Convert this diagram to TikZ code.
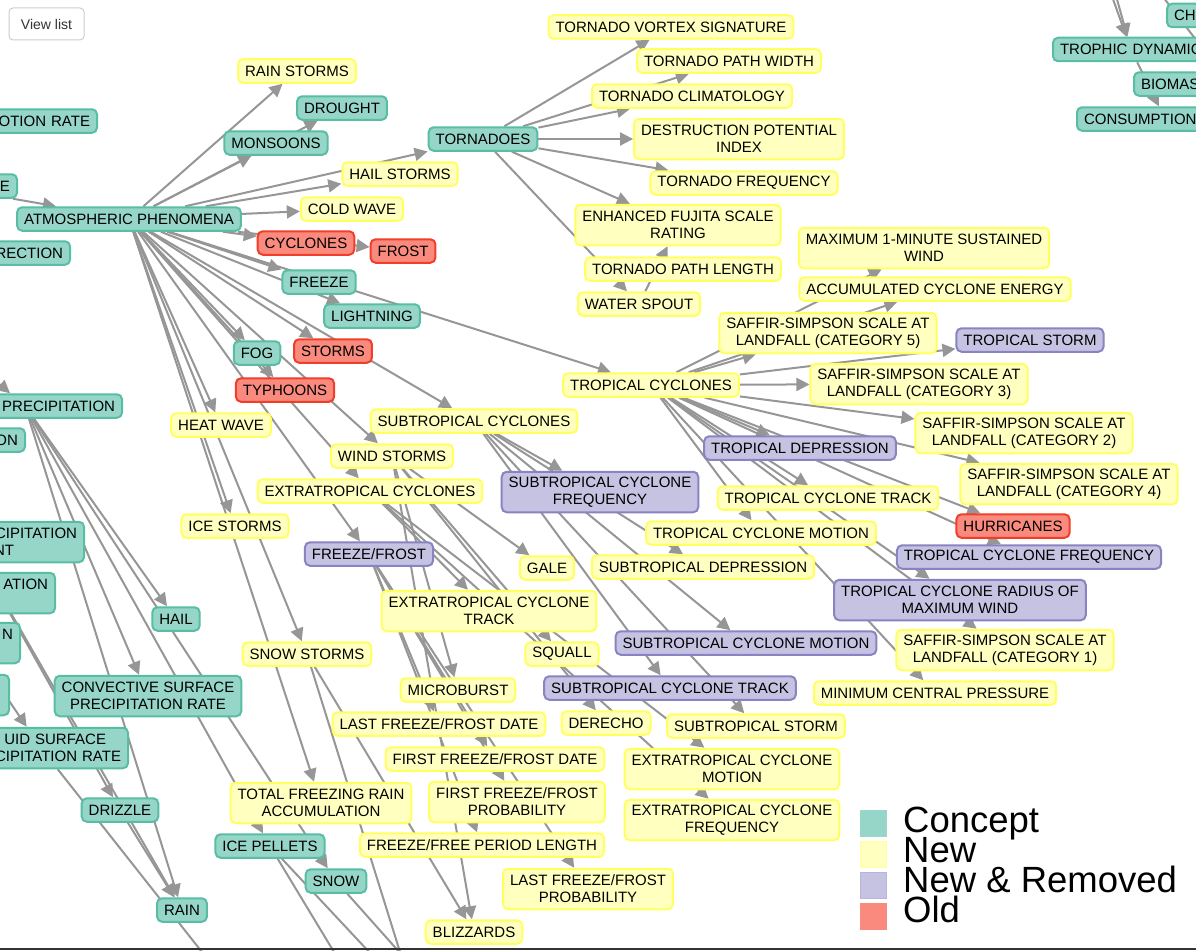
\documentclass[tikz,border=0pt]{standalone}
\usepackage{fontspec}
\setmainfont{Liberation Sans}
\usetikzlibrary{arrows.meta}
\definecolor{conceptfill}{RGB}{150,214,200}
\definecolor{conceptline}{RGB}{88,189,163}
\definecolor{newfill}{RGB}{255,255,192}
\definecolor{newline}{RGB}{255,255,96}
\definecolor{remfill}{RGB}{197,195,225}
\definecolor{remline}{RGB}{136,131,195}
\definecolor{oldfill}{RGB}{250,138,125}
\definecolor{oldline}{RGB}{240,62,42}
\definecolor{linkgray}{RGB}{150,150,150}
\definecolor{btnline}{RGB}{204,204,204}
\definecolor{btntext}{RGB}{51,51,51}
\pgfdeclarelayer{links}
\pgfsetlayers{links,main}

\begin{document}
\begin{tikzpicture}[x=1pt, y=-1pt,
  term/.style={rectangle, rounded corners=5pt, line width=2pt, inner xsep=7pt, inner ysep=3pt,
    minimum height=23.5pt, align=center, font=\fontsize{15}{17}\selectfont},
  two/.style={minimum height=40.5pt},
  conceptnode/.style={term, fill=conceptfill, draw=conceptline},
  newnode/.style={term, fill=newfill, draw=newline},
  newremnode/.style={term, fill=remfill, draw=remline},
  oldnode/.style={term, fill=oldfill, draw=oldline},
  cutleft/.style={anchor=east, text width=#1, align=right},
  cutright/.style={anchor=west, text width=#1, align=left},
  linkline/.style={draw=linkgray, line width=2pt, -{Triangle[length=13pt, width=13pt]}},
  legkey/.style={minimum size=26pt, inner sep=0pt, line width=1pt},
  legtext/.style={anchor=base west, inner sep=0pt, font=\fontsize{36.5}{40}\selectfont}]

\useasboundingbox (0,0) rectangle (1196,950);

\node[draw=btnline, fill=white, rounded corners=4pt, line width=1pt, minimum width=75pt,
  minimum height=32pt, inner sep=0pt, text=btntext, font=\fontsize{14}{16}\selectfont] (viewlist) at (46.5,24) {View list};

% cut at the left edge
\node[conceptnode, cutleft=120pt] (otion) at (98,121) {OTION RATE};
\node[conceptnode, cutleft=140pt] (ecut) at (18,186) {E};
\node[conceptnode, cutleft=100pt] (rection) at (71,253) {RECTION};
\node[conceptnode, cutleft=180pt] (precip) at (123,406) {PRECIPITATION};
\node[conceptnode, cutleft=60pt] (oncut) at (26,440) {ON};
\node[conceptnode, two, cutleft=214pt] (cipnt) at (85,542) {CIPITATION\\NT\rule{63pt}{0pt}};
\node[conceptnode, two, cutleft=80pt] (ation) at (56,593) {ATION\\\mbox{}};
\node[conceptnode, two, cutleft=86pt] (ncut) at (21,643) {N\\\mbox{}};
\node[conceptnode, two, cutleft=40pt] (blank) at (10,695) {};
\node[conceptnode, two, cutleft=160pt] (liquid) at (129,748) {UID SURFACE\rule{15pt}{0pt}\\CIPITATION RATE};

% cut at the right edge
\node[conceptnode, cutright=100pt] (chi) at (1166,15.5) {CHI};
\node[conceptnode, cutright=142pt] (trophic) at (1052,49.5) {TROPHIC DYNAMIC};
\node[conceptnode, cutright=178pt] (biomas) at (1133,84) {BIOMAS};
\node[conceptnode, cutright=162pt] (consump) at (1076,119) {CONSUMPTION};

\node[newnode] (rainst) at (297,71) {RAIN STORMS};
\node[conceptnode] (drought) at (342,108) {DROUGHT};
\node[conceptnode] (monsoons) at (276,143) {MONSOONS};
\node[conceptnode] (tornadoes) at (483,139) {TORNADOES};
\node[newnode] (hailst) at (400,174) {HAIL STORMS};
\node[newnode] (coldw) at (352,209) {COLD WAVE};
\node[conceptnode] (atmo) at (129,219) {ATMOSPHERIC PHENOMENA};
\node[oldnode] (cyclones) at (306,243) {CYCLONES};
\node[oldnode] (frost) at (403,251) {FROST};
\node[conceptnode] (freeze) at (319,282) {FREEZE};
\node[conceptnode] (lightning) at (372,316) {LIGHTNING};
\node[conceptnode] (fog) at (257,353) {FOG};
\node[oldnode] (storms) at (333,351) {STORMS};
\node[oldnode] (typhoons) at (285,390) {TYPHOONS};
\node[newnode] (heatw) at (221,425) {HEAT WAVE};
\node[newnode] (subcyc) at (474,421) {SUBTROPICAL CYCLONES};
\node[newnode] (windst) at (392,456) {WIND STORMS};
\node[newnode] (extcyc) at (370,491) {EXTRATROPICAL CYCLONES};
\node[newnode] (icest) at (235,526) {ICE STORMS};
\node[newremnode] (ffrost) at (369,554) {FREEZE/FROST};
\node[newnode] (gale) at (547,568) {GALE};
\node[newremnode, two] (subfreq) at (600,492) {SUBTROPICAL CYCLONE\\FREQUENCY};
\node[newnode, two] (exttrack) at (489,611) {EXTRATROPICAL CYCLONE\\TRACK};
\node[newnode] (squall) at (562,654) {SQUALL};
\node[newnode] (microb) at (458,690) {MICROBURST};
\node[newremnode] (subtrack) at (670,688) {SUBTROPICAL CYCLONE TRACK};
\node[newnode] (derecho) at (606,723) {DERECHO};
\node[newnode] (substorm) at (756,726) {SUBTROPICAL STORM};
\node[newnode] (lastdate) at (439,724) {LAST FREEZE/FROST DATE};
\node[newnode] (firstdate) at (495,759) {FIRST FREEZE/FROST DATE};
\node[newnode, two] (extmotion) at (732,769) {EXTRATROPICAL CYCLONE\\MOTION};
\node[newnode, two] (firstprob) at (517,802) {FIRST FREEZE/FROST\\PROBABILITY};
\node[newnode, two] (extfreq) at (732,820) {EXTRATROPICAL CYCLONE\\FREQUENCY};
\node[newnode] (freeperiod) at (482,845) {FREEZE/FREE PERIOD LENGTH};
\node[newnode, two] (lastprob) at (588,889) {LAST FREEZE/FROST\\PROBABILITY};
\node[newnode] (blizz) at (474,932) {BLIZZARDS};
\node[newnode, two] (tfr) at (321,803) {TOTAL FREEZING RAIN\\ACCUMULATION};
\node[conceptnode] (icepel) at (270,846) {ICE PELLETS};
\node[conceptnode] (snow) at (336,881) {SNOW};
\node[conceptnode] (rain) at (182,910) {RAIN};
\node[conceptnode] (drizzle) at (120,810) {DRIZZLE};
\node[conceptnode, two] (convect) at (148,696) {CONVECTIVE SURFACE\\PRECIPITATION RATE};
\node[newnode] (snowst) at (307,654) {SNOW STORMS};
\node[conceptnode] (hail) at (176,619) {HAIL};

\node[newnode] (vortex) at (671,27) {TORNADO VORTEX SIGNATURE};
\node[newnode] (pathw) at (729,61) {TORNADO PATH WIDTH};
\node[newnode] (climat) at (692,96) {TORNADO CLIMATOLOGY};
\node[newnode, two] (destr) at (739,139) {DESTRUCTION POTENTIAL\\INDEX};
\node[newnode] (tfreq) at (744,183) {TORNADO FREQUENCY};
\node[newnode, two] (fujita) at (678,225) {ENHANCED FUJITA SCALE\\RATING};
\node[newnode] (pathl) at (683,269) {TORNADO PATH LENGTH};
\node[newnode] (wspout) at (639,304) {WATER SPOUT};

\node[newnode, two] (maxwind) at (924,248) {MAXIMUM 1-MINUTE SUSTAINED\\WIND};
\node[newnode] (ace) at (935,289) {ACCUMULATED CYCLONE ENERGY};
\node[newnode, two] (ssfive) at (828,333) {SAFFIR-SIMPSON SCALE AT\\LANDFALL (CATEGORY 5)};
\node[newremnode] (tstorm) at (1030,340) {TROPICAL STORM};
\node[newnode] (tropcyc) at (651,385) {TROPICAL CYCLONES};
\node[newnode, two] (ssthree) at (919,384) {SAFFIR-SIMPSON SCALE AT\\LANDFALL (CATEGORY 3)};
\node[newnode, two] (sstwo) at (1024,433) {SAFFIR-SIMPSON SCALE AT\\LANDFALL (CATEGORY 2)};
\node[newremnode] (tdep) at (800,448) {TROPICAL DEPRESSION};
\node[newnode, two] (ssfour) at (1069,484) {SAFFIR-SIMPSON SCALE AT\\LANDFALL (CATEGORY 4)};
\node[newnode] (tctrack) at (828,498) {TROPICAL CYCLONE TRACK};
\node[oldnode] (hurr) at (1013,526) {HURRICANES};
\node[newnode] (tcmotion) at (761,533) {TROPICAL CYCLONE MOTION};
\node[newnode] (subdep) at (703,567) {SUBTROPICAL DEPRESSION};
\node[newremnode] (tcfreq) at (1029,557) {TROPICAL CYCLONE FREQUENCY};
\node[newremnode, two] (radius) at (960,600) {TROPICAL CYCLONE RADIUS OF\\MAXIMUM WIND};
\node[newremnode] (submotion) at (746,643) {SUBTROPICAL CYCLONE MOTION};
\node[newnode, two] (ssone) at (1005,650) {SAFFIR-SIMPSON SCALE AT\\LANDFALL (CATEGORY 1)};
\node[newnode] (mcp) at (935,693) {MINIMUM CENTRAL PRESSURE};

% free ends outside the frame
\coordinate (offprecip) at (-70,325);
\coordinate (offliq) at (228,985);
\coordinate (offpel1) at (363,1000);
\coordinate (offpel2) at (414,1000);
\coordinate (offsnow) at (442,1000);
\coordinate (offsnst) at (415,1000);
\coordinate (offtop1) at (1106,-40);
\coordinate (offtop2) at (1099,-40);
\coordinate (offchi) at (1150,-20);

\begin{pgfonlayer}{links}
\begin{scope}[every edge/.style={linkline}]
\path (atmo) edge (rainst) edge (drought) edge (monsoons) edge (hailst) edge (tornadoes)
  edge (coldw) edge (cyclones) edge (frost) edge (freeze) edge (lightning) edge (tropcyc)
  edge (fog) edge (storms) edge (typhoons) edge (heatw) edge (subcyc) edge (windst)
  edge (extcyc) edge (icest) edge (ffrost) edge (snowst) edge (tfr);
\path (tornadoes) edge (vortex) edge (pathw) edge (climat) edge (destr) edge (tfreq)
  edge (fujita) edge (wspout);
\path (wspout) edge (fujita);
\path (tropcyc) edge (ssfive) edge (maxwind) edge (ace) edge (tstorm) edge (ssthree)
  edge (sstwo) edge (tdep) edge (ssfour) edge (hurr) edge (tctrack) edge (tcmotion)
  edge (tcfreq) edge (radius) edge (ssone) edge (mcp);
\path (subcyc) edge (subfreq) edge (subdep) edge (submotion) edge (subtrack) edge (substorm);
\path (windst) edge (gale) edge (squall) edge (microb) edge (derecho) edge (blizz);
\path (extcyc) edge (exttrack) edge (extmotion) edge (extfreq);
\path (ffrost) edge (lastdate) edge (firstdate) edge (firstprob) edge (freeperiod) edge (lastprob);
\path (snowst) edge (blizz) edge (offsnst);
\path (ecut) edge (atmo);
\path (offprecip) edge (precip);
\path (precip) edge (hail) edge (convect) edge (icepel) edge (snow) edge (rain);
\path (ncut) edge (liquid);
\path (cipnt) edge (drizzle) edge (rain);
\path (drizzle) edge (rain);
\path (liquid) edge (offliq);
\path (icepel) edge (offpel1) edge (offpel2);
\path (snow) edge (offsnow);
\path (offtop1) edge (trophic);
\path (offtop2) edge (trophic);
\path (offchi) edge (biomas);
\path (trophic) edge (consump);
\end{scope}
\end{pgfonlayer}

% legend
\node[legkey, fill=conceptfill, draw=conceptline!60] (keyconcept) at (873,823.5) {};
\node[legkey, fill=newfill, draw=newline!60] (keynew) at (873,854) {};
\node[legkey, fill=remfill, draw=remline!60] (keyrem) at (873,885) {};
\node[legkey, fill=oldfill, draw=oldline!60] (keyold) at (873,916) {};
\node[legtext] (txtconcept) at (903,832) {Concept};
\node[legtext] (txtnew) at (903,862) {New};
\node[legtext] (txtrem) at (903,892) {New \& Removed};
\node[legtext] (txtold) at (903,922) {Old};

\fill[black!80] (0,948) rectangle (1196,950);
\end{tikzpicture}
\end{document}
